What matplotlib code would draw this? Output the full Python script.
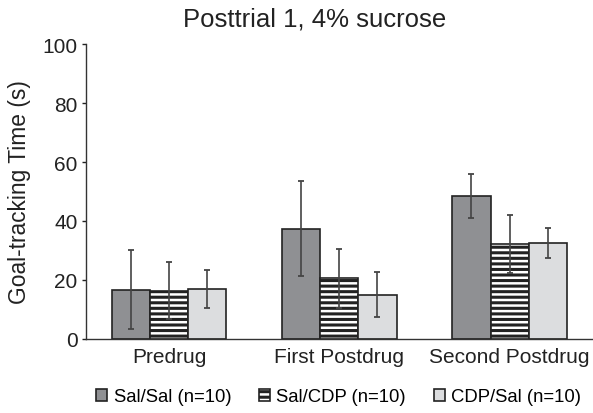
import matplotlib
matplotlib.use("Agg")
import matplotlib.pyplot as plt
import numpy as np

plt.rcParams['font.family'] = ['Liberation Sans', 'DejaVu Sans']
plt.rcParams['hatch.linewidth'] = 2.2

categories = ["Predrug", "First Postdrug", "Second Postdrug"]
series_names = ["Sal/Sal (n=10)", "Sal/CDP (n=10)", "CDP/Sal (n=10)"]
sal_sal = [16.7, 37.3, 48.5]
sal_cdp = [16.4, 20.5, 32.1]
cdp_sal = [16.9, 15.0, 32.5]
sal_sal_err = [13.5, 16.1, 7.5]
sal_cdp_err = [9.6, 10.0, 9.8]
cdp_sal_err = [6.4, 7.6, 5.0]

values = [sal_sal, sal_cdp, cdp_sal]
errors = [sal_sal_err, sal_cdp_err, cdp_sal_err]
faces = ["#8f9093", "white", "#dcdddf"]
hatches = [None, "---", None]

fig = plt.figure(figsize=(5.93, 4.14), dpi=100)
ax = fig.add_axes([0.145, 0.179, 0.855, 0.712])

x = np.arange(len(categories))
w = 0.224
for i in range(3):
    ax.bar(x + (i - 1) * w, values[i], width=w, color=faces[i], edgecolor="#222222",
           linewidth=1.2, hatch=hatches[i], label=series_names[i], zorder=2)
    ax.errorbar(x + (i - 1) * w, values[i], yerr=errors[i], fmt="none",
                ecolor="#444444", elinewidth=1.2, capsize=1.9, capthick=1.3, zorder=3)

ax.set_xlim(-0.488, 2.49)
ax.set_ylim(0, 100)
ax.set_yticks([0, 20, 40, 60, 80, 100])
ax.set_xticks(x)
ax.set_xticklabels(categories)
ax.tick_params(axis='x', length=0, labelsize=15, pad=6, colors="#222222")
ax.tick_params(axis='y', length=3, labelsize=15, pad=3, colors="#222222", width=1)
for s in ["top", "right"]:
    ax.spines[s].set_visible(False)
for s in ["left", "bottom"]:
    ax.spines[s].set_color("#333333")
    ax.spines[s].set_linewidth(1.0)
ax.set_ylabel("Goal-tracking Time (s)", fontsize=16.4, color="#222222", labelpad=8)
fig.text(183 / 593, 1 - 19 / 414, "Posttrial 1, 4% sucrose", fontsize=18.5,
         color="#222222", ha="left", va="center")

fig.legend(loc="center left", bbox_to_anchor=(96 / 593, 1 - 398 / 414), ncol=3,
           frameon=False, borderpad=0, borderaxespad=0,
           fontsize=13.3, handlelength=0.6, handleheight=0.6, handletextpad=0.35,
           columnspacing=1.5)

fig.savefig("out.png", dpi=100)
